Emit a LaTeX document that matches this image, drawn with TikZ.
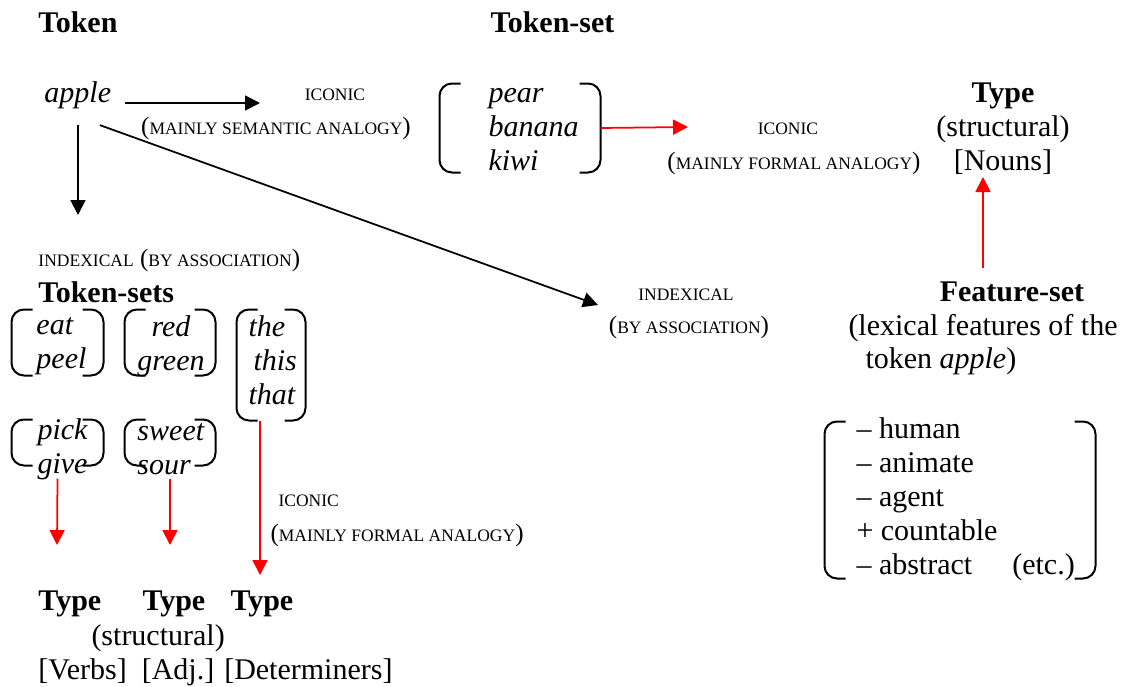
\documentclass[tikz,border=0pt]{standalone}
\usepackage{fontspec}
\setmainfont{Liberation Serif}
\usetikzlibrary{arrows.meta,calc,positioning}
\newcommand\smcap[1]{{\fontsize{7}{9}\selectfont #1}}
\newcommand\opar{{\fontsize{10}{12}\selectfont(}}
\newcommand\cpar{{\fontsize{10}{12}\selectfont)}}
\newcommand\brackets[1]{%
    \draw[brk] ($(#1.north west)+(21,0)$) -- (#1.north west) -- (#1.south west) -- ($(#1.south west)+(21,0)$);
    \draw[brk] ($(#1.north east)+(-21,0)$) -- (#1.north east) -- (#1.south east) -- ($(#1.south east)+(-21,0)$);
}
\tikzset{heading/.style={
            font=\fontsize{12}{13.6}\selectfont\bfseries,
            inner sep=0pt
        },
        wordlist/.style={
            font=\fontsize{12}{13.6}\selectfont\itshape,
            inner sep=0pt,
            align=left
        },
        plaintext/.style={
            font=\fontsize{12}{13.6}\selectfont,
            inner sep=0pt
        },
        smalltext/.style={
            inner sep=0pt
        },
        groupbox/.style 2 args={
            inner sep=0pt,
            minimum width=#1*0.4pt,
            minimum height=#2*0.4pt
        },
        brk/.style={
            line width=0.8pt,
            rounded corners=5pt
        },
        arr/.style={
            line width=0.7pt,
            -{Triangle[length=6pt,width=6pt]}
        },
        redarr/.style={
            arr,
            red
        }
    }
\begin{document}
\begin{tikzpicture}[x=0.4pt,y=-0.4pt]
        \useasboundingbox (0,0) rectangle (1122,687);

        % headings
        \node[heading,anchor=west] (token) at (38,22) {Token};
        \node[heading,anchor=west] (tsethead) at (490,22) {Token-set};

        % apple and the top row
        \node[wordlist,anchor=west] (apple) at (44,95) {apple};
        \node[smalltext] (iconA) at (335,95) {\smcap{ICONIC}};
        \node[smalltext] (semA) at (276,128) {\opar\smcap{MAINLY SEMANTIC ANALOGY}\cpar};

        \node[groupbox={160}{88}] (tset) at (520,128) {};
        \node[wordlist,anchor=west] (tsetwords) at (488,130) {pear\\banana\\kiwi};
        \brackets{tset}

        \node[smalltext] (iconB) at (788,129) {\smcap{ICONIC}};
        \node[smalltext] (formB) at (794,163) {\opar\smcap{MAINLY FORMAL ANALOGY}\cpar};

        \node[plaintext,align=center] (typeN) at (1003,129) {\textbf{Type}\\(structural)\\{[Nouns]}};

        % feature-set
        \node[heading] (fhead) at (1012,292) {Feature-set};
        \node[plaintext,anchor=west] (fdesc) at (848,328) {(lexical features of the};
        \node[plaintext,anchor=west] (fdesc2) at (865,361) {token \textit{apple})};

        \node[groupbox={270}{156}] (feat) at (960,500) {};
        \node[plaintext,align=left,anchor=west] (featwords) at (856,499)
            {– human\\– animate\\– agent\\+ countable\\– abstract\hspace{16pt}(etc.)};
        \brackets{feat}

        % indexical signs
        \node[smalltext,anchor=west] (indexA) at (38,260) {\smcap{INDEXICAL} \opar\smcap{BY ASSOCIATION}\cpar};
        \node[smalltext] (indexB) at (686,295) {\smcap{INDEXICAL}};
        \node[smalltext] (assocB) at (689,327) {\opar\smcap{BY ASSOCIATION}\cpar};

        % token-sets
        \node[heading,anchor=west] (tsets) at (38,292) {Token-sets};

        \node[groupbox={91}{65}] (eat) at (57.5,342.5) {};
        \node[wordlist,anchor=west] (eatwords) at (36,346) {eat\\peel};
        \brackets{eat}
        \node[groupbox={90}{65}] (red) at (170,342.5) {};
        \node[wordlist,align=center] (redwords) at (171,346) {red\\green};
        \brackets{red}
        \node[groupbox={68}{110}] (the) at (271,365) {};
        \node[wordlist,anchor=west] (thewords) at (248,360) {the\\\hspace*{2pt}this\\that};
        \brackets{the}
        \node[groupbox={91}{45}] (pick) at (57.5,442.5) {};
        \node[wordlist,anchor=west] (pickwords) at (37,449) {pick\\give};
        \brackets{pick}
        \node[groupbox={90}{45}] (sweet) at (170,442.5) {};
        \node[wordlist,anchor=west] (sweetwords) at (137,449) {sweet\\sour};
        \brackets{sweet}

        \node[smalltext,anchor=west] (iconC) at (278,501) {\smcap{ICONIC}};
        \node[smalltext,anchor=west] (formC) at (270,535) {\opar\smcap{MAINLY FORMAL ANALOGY}\cpar};

        % bottom types
        \node[heading,anchor=west] (typeV) at (38,604) {Type};
        \node[heading,anchor=west] (typeA) at (142,604) {Type};
        \node[heading,anchor=west] (typeD) at (230,604) {Type};
        \node[plaintext,anchor=west] (struct) at (91,638) {(structural)};
        \node[plaintext,anchor=west] (cats) at (38,672) {[Verbs]\hspace{6pt}[Adj.] [Determiners]};

        % arrows
        \coordinate (tipA) at (260,103);
        \coordinate (tipB) at (78,215);
        \coordinate (tipC) at (598,305);
        \coordinate (tipD) at (688,127);
        \coordinate (tipE) at (983,177);
        \coordinate (tipF) at (57,545);
        \coordinate (tipG) at (170,545);
        \coordinate (tipH) at (260,575);

        \draw[arr] ($(apple.east)+(13,8)$) -- (tipA);
        \draw[arr] ($(apple.south -| tipB)+(0,16)$) -- (tipB);
        \draw[arr] ($(apple.south)+(22,16)$) -- (tipC);
        \draw[redarr] (tset.east) -- (tipD);
        \draw[redarr] ($(tipE |- fhead.north)+(0,-13)$) -- (tipE);
        \draw[redarr] ($(pick.south)+(0,13)$) -- (tipF);
        \draw[redarr] ($(sweet.south)+(0,13)$) -- (tipG);
        \draw[redarr] (tipH |- the.south) -- (tipH);

    \end{tikzpicture}
\end{document}
